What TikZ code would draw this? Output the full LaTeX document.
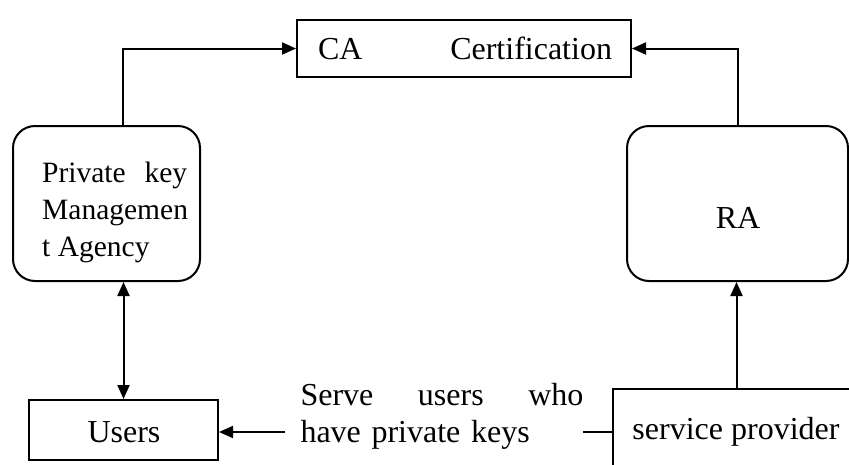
\documentclass[tikz,border=0pt]{standalone}
\usepackage{fontspec}
\setmainfont{Liberation Serif}
\usetikzlibrary{arrows.meta}
\begin{document}
\begin{tikzpicture}[x=1pt,y=-1pt,
  box/.style={draw, line width=2pt, inner sep=0pt},
  rbox/.style={draw, rounded corners=22pt, line width=2pt, inner sep=0pt},
  lbl/.style={font=\fontsize{32}{37}\selectfont, inner sep=0pt},
  conn/.style={line width=2pt},
  arr/.style={conn, -{Triangle[length=14pt,width=12pt]}},
  darr/.style={conn, {Triangle[length=14pt,width=12pt]}-{Triangle[length=14pt,width=12pt]}}]
\useasboundingbox (0,0) rectangle (849,464);

% boxes
\node[box, minimum width=334pt, minimum height=57pt] (ca) at (464,48.5) {};
\node[rbox, minimum width=187pt, minimum height=155pt] (pkm) at (106.5,203.5) {};
\node[rbox, minimum width=221pt, minimum height=155pt] (ra) at (737.5,203.5) {};
\node[box, minimum width=189pt, minimum height=60pt] (users) at (123.5,430) {};
\node[box, minimum width=247pt, minimum height=101pt] (sp) at (736.5,439.5) {};

% labels
\node[lbl] (catext) at (465,48.5) {\makebox[294pt]{CA\hfill Certification}};
\node[lbl, font=\fontsize{29.5}{37}\selectfont, anchor=north west, text width=145pt,
  align=justify] (pkmtext) at (42,162)
  {Private\hfill key\\Managemen\\t Agency};
\node[lbl] (ratext) at (738,218) {RA};
\node[lbl] (userstext) at (124,432) {Users};
\node[lbl] (sptext) at (736,432) {service provider};
\node[lbl, text width=283pt, align=left] (serve) at (442,416)
  {Serve\hfill users\hfill who\\have private keys};

% connectors
\draw[arr] ([xshift=16.5pt]pkm.north) |- (ca.west);
\draw[arr] (ra.north) |- (ca.east);
\draw[darr] (pkm.south -| users.north) -- (users.north);
\draw[arr] (sp.north) -- (sp.north |- ra.south);
\coordinate (arrtail) at (285,432);
\draw[arr] (arrtail) -- (arrtail -| users.east);
\coordinate (linestart) at (583,432);
\draw[conn] (linestart) -- (linestart -| sp.west);
\end{tikzpicture}
\end{document}
